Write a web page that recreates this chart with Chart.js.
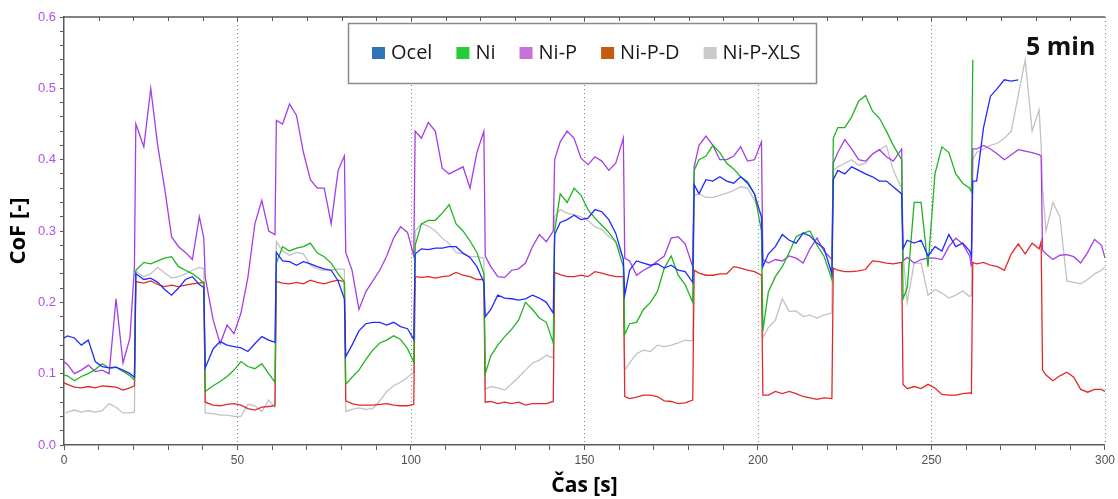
<!DOCTYPE html>
<html>
<head>
<meta charset="utf-8">
<script src="https://cdn.jsdelivr.net/npm/chart.js@4/dist/chart.umd.min.js"></script>
<style>
  html, body { margin: 0; padding: 0; background: #fff; }
  canvas { display: block; }
</style>
</head>
<body>
<canvas id="graf" width="1118" height="499"></canvas>
<script>
// cas [s] - shared time points (each 20 s block starts right after the step)
const cas = [
  0, 1, 3, 5, 7, 9, 11, 13, 15, 17, 19, 20.3,
  20.7, 23, 25, 27, 29, 31, 33, 35, 37, 39, 40.3,
  40.7, 43, 45, 47, 49, 51, 53, 55, 57, 59, 60.8,
  61.2, 63, 65, 67, 69, 71, 73, 75, 77, 79, 80.8,
  81.2, 83, 85, 87, 89, 91, 93, 95, 97, 99, 100.8,
  101.2, 103, 105, 107, 109, 111, 113, 115, 117, 119, 121,
  121.4, 123, 125, 127, 129, 131, 133, 135, 137, 139, 141,
  141.4, 143, 145, 147, 149, 151, 153, 155, 157, 159, 161.2,
  161.6, 163, 165, 167, 169, 171, 173, 175, 177, 179, 181.2,
  181.6, 183, 185, 187, 189, 191, 193, 195, 197, 199, 201,
  201.4, 203, 205, 207, 209, 211, 213, 215, 217, 219, 221.3,
  221.7, 223, 225, 227, 229, 231, 233, 235, 237, 239, 241.4,
  241.8, 243, 245, 247, 249, 251, 253, 255, 257, 259, 261, 261.5,
  261.9, 263, 265, 267, 269, 271, 273, 275, 277, 279, 281, 281.6,
  282, 283, 285, 287, 289, 291, 293, 295, 297, 299, 300
];

const ocel = [
  0.15, 0.153, 0.15, 0.14, 0.147, 0.117, 0.11, 0.108, 0.109, 0.105, 0.1, 0.095,
  0.24, 0.232, 0.234, 0.228, 0.218, 0.21, 0.22, 0.232, 0.236, 0.225, 0.221,
  0.108, 0.135, 0.145, 0.14, 0.138, 0.136, 0.131, 0.142, 0.152, 0.147, 0.144,
  0.27, 0.258, 0.257, 0.252, 0.257, 0.254, 0.25, 0.247, 0.245, 0.23, 0.205,
  0.124, 0.14, 0.16, 0.17, 0.172, 0.172, 0.168, 0.172, 0.166, 0.163, 0.148,
  0.268, 0.275, 0.274, 0.276, 0.276, 0.278, 0.278, 0.269, 0.263, 0.25, 0.228,
  0.18, 0.19, 0.21, 0.206, 0.205, 0.203, 0.205, 0.21, 0.206, 0.2, 0.185,
  0.295, 0.312, 0.316, 0.322, 0.316, 0.318, 0.33, 0.327, 0.316, 0.297, 0.26,
  0.21, 0.245, 0.258, 0.255, 0.252, 0.254, 0.248, 0.252, 0.245, 0.243, 0.228,
  0.365, 0.352, 0.372, 0.37, 0.376, 0.37, 0.367, 0.376, 0.367, 0.352, 0.32,
  0.25, 0.268, 0.278, 0.295, 0.287, 0.283, 0.297, 0.293, 0.283, 0.276, 0.24,
  0.372, 0.385, 0.38, 0.39, 0.385, 0.38, 0.376, 0.37, 0.37, 0.362, 0.352,
  0.275, 0.287, 0.283, 0.287, 0.265, 0.278, 0.272, 0.295, 0.278, 0.283, 0.272, 0.265,
  0.37, 0.37, 0.445, 0.489, 0.5, 0.512, 0.51, 0.512, null, null, null, null,
  null, null, null, null, null, null, null, null, null, null, null
];

const ni = [
  0.098, 0.097, 0.09, 0.096, 0.1, 0.106, 0.114, 0.108, 0.109, 0.103, 0.097, 0.091,
  0.245, 0.256, 0.254, 0.258, 0.262, 0.264, 0.25, 0.245, 0.24, 0.233, 0.226,
  0.075, 0.083, 0.089, 0.096, 0.105, 0.117, 0.11, 0.107, 0.114, 0.1, 0.088,
  0.255, 0.278, 0.272, 0.276, 0.278, 0.283, 0.269, 0.264, 0.255, 0.24, 0.229,
  0.085, 0.095, 0.105, 0.12, 0.133, 0.143, 0.147, 0.153, 0.148, 0.135, 0.116,
  0.28, 0.31, 0.315, 0.315, 0.325, 0.337, 0.31, 0.3, 0.286, 0.27, 0.24,
  0.1, 0.125, 0.14, 0.152, 0.162, 0.175, 0.2, 0.19, 0.178, 0.172, 0.143,
  0.3, 0.352, 0.34, 0.36, 0.35, 0.33, 0.318, 0.308, 0.298, 0.285, 0.25,
  0.155, 0.17, 0.172, 0.19, 0.2, 0.215, 0.248, 0.265, 0.238, 0.225, 0.2,
  0.385, 0.4, 0.405, 0.42, 0.41, 0.395, 0.387, 0.376, 0.369, 0.352, 0.3,
  0.16, 0.215, 0.236, 0.25, 0.27, 0.292, 0.297, 0.3, 0.28, 0.265, 0.232,
  0.43, 0.445, 0.445, 0.46, 0.482, 0.49, 0.468, 0.458, 0.44, 0.42, 0.4,
  0.205, 0.22, 0.34, 0.34, 0.25, 0.38, 0.418, 0.41, 0.38, 0.367, 0.36, 0.355,
  0.54, null, null, null, null, null, null, null, null, null, null, null,
  null, null, null, null, null, null, null, null, null, null, null
];

const niP = [
  0.117, 0.113, 0.1, 0.105, 0.112, 0.103, 0.105, 0.1, 0.205, 0.115, 0.15, 0.25,
  0.45, 0.418, 0.5, 0.42, 0.36, 0.292, 0.278, 0.27, 0.26, 0.32, 0.29,
  0.235, 0.175, 0.142, 0.168, 0.156, 0.185, 0.235, 0.31, 0.343, 0.3, 0.295,
  0.455, 0.45, 0.478, 0.462, 0.41, 0.372, 0.36, 0.36, 0.31, 0.385, 0.405,
  0.27, 0.245, 0.19, 0.215, 0.23, 0.245, 0.265, 0.29, 0.306, 0.298, 0.265,
  0.44, 0.43, 0.452, 0.44, 0.388, 0.38, 0.385, 0.39, 0.36, 0.41, 0.44,
  0.265, 0.25, 0.236, 0.235, 0.245, 0.247, 0.255, 0.278, 0.295, 0.285, 0.3,
  0.4, 0.425, 0.44, 0.43, 0.402, 0.393, 0.404, 0.398, 0.385, 0.395, 0.43,
  0.262, 0.258, 0.238, 0.245, 0.25, 0.258, 0.265, 0.29, 0.292, 0.282, 0.25,
  0.39, 0.42, 0.433, 0.42, 0.4, 0.4, 0.405, 0.418, 0.398, 0.4, 0.425,
  0.26, 0.255, 0.26, 0.258, 0.265, 0.262, 0.255, 0.275, 0.29, 0.272, 0.26,
  0.395, 0.41, 0.428, 0.415, 0.4, 0.398, 0.408, 0.414, 0.404, 0.398, 0.415,
  0.258, 0.263, 0.255, 0.26, 0.262, 0.262, 0.26, 0.278, 0.29, 0.282, 0.265, 0.25,
  0.415, 0.415, 0.42, 0.415, 0.408, 0.4, 0.407, 0.414, 0.412, 0.41, 0.407, 0.405,
  0.273, 0.268, 0.26, 0.266, 0.267, 0.264, 0.255, 0.27, 0.288, 0.28, 0.262
];

const niPD = [
  0.087, 0.085, 0.081, 0.08, 0.082, 0.08, 0.083, 0.082, 0.081, 0.077, 0.08, 0.083,
  0.229, 0.227, 0.23, 0.225, 0.222, 0.224, 0.222, 0.224, 0.226, 0.227, 0.228,
  0.06, 0.056, 0.055, 0.057, 0.058, 0.056, 0.051, 0.049, 0.053, 0.054, 0.055,
  0.229, 0.227, 0.226, 0.228, 0.226, 0.231, 0.228, 0.226, 0.229, 0.231, 0.229,
  0.062, 0.058, 0.056, 0.056, 0.056, 0.057, 0.058, 0.056, 0.055, 0.055, 0.057,
  0.236, 0.235, 0.236, 0.234, 0.236, 0.237, 0.242, 0.238, 0.236, 0.232, 0.232,
  0.06, 0.061, 0.058, 0.06, 0.058, 0.06, 0.056, 0.058, 0.058, 0.058, 0.061,
  0.242, 0.239, 0.236, 0.236, 0.238, 0.236, 0.243, 0.241, 0.238, 0.236, 0.236,
  0.068, 0.065, 0.067, 0.07, 0.07, 0.068, 0.062, 0.061, 0.058, 0.059, 0.063,
  0.245, 0.241, 0.238, 0.238, 0.24, 0.24, 0.25, 0.248, 0.245, 0.243, 0.238,
  0.07, 0.07, 0.075, 0.072, 0.075, 0.072, 0.068, 0.066, 0.064, 0.066, 0.065,
  0.248, 0.245, 0.243, 0.243, 0.244, 0.246, 0.258, 0.257, 0.255, 0.254, 0.256,
  0.085, 0.079, 0.082, 0.079, 0.085, 0.08, 0.071, 0.07, 0.07, 0.072, 0.073, 0.072,
  0.256, 0.254, 0.256, 0.252, 0.25, 0.245, 0.268, 0.282, 0.268, 0.283, 0.275, 0.285,
  0.105, 0.098, 0.09, 0.097, 0.102, 0.095, 0.078, 0.074, 0.078, 0.078, 0.075
];

const niPXLS = [
  0.044, 0.046, 0.049, 0.046, 0.048, 0.046, 0.048, 0.058, 0.053, 0.045, 0.045, 0.046,
  0.243, 0.236, 0.24, 0.249, 0.241, 0.234, 0.236, 0.24, 0.245, 0.249, 0.247,
  0.045, 0.044, 0.042, 0.042, 0.04, 0.04, 0.057, 0.055, 0.047, 0.063, 0.053,
  0.285, 0.272, 0.266, 0.27, 0.268, 0.252, 0.247, 0.245, 0.245, 0.247, 0.246,
  0.047, 0.05, 0.052, 0.05, 0.051, 0.062, 0.075, 0.083, 0.088, 0.095, 0.102,
  0.3, 0.31, 0.307, 0.3, 0.29, 0.282, 0.27, 0.268, 0.264, 0.264, 0.262,
  0.078, 0.082, 0.08, 0.077, 0.086, 0.095, 0.105, 0.115, 0.119, 0.126, 0.122,
  0.32, 0.33, 0.325, 0.323, 0.32, 0.315, 0.306, 0.302, 0.292, 0.285, 0.262,
  0.105, 0.115, 0.128, 0.133, 0.131, 0.14, 0.138, 0.14, 0.143, 0.147, 0.146,
  0.35, 0.352, 0.347, 0.347, 0.35, 0.353, 0.357, 0.362, 0.36, 0.343, 0.32,
  0.15, 0.165, 0.175, 0.205, 0.187, 0.188, 0.18, 0.182, 0.178, 0.182, 0.185,
  0.385, 0.39, 0.395, 0.4, 0.392, 0.395, 0.408, 0.414, 0.42, 0.385, 0.36,
  0.27, 0.2, 0.255, 0.255, 0.21, 0.218, 0.213, 0.206, 0.21, 0.216, 0.208, 0.21,
  0.4, 0.41, 0.415, 0.42, 0.423, 0.43, 0.44, 0.49, 0.54, 0.44, 0.47, 0.42,
  0.36, 0.3, 0.34, 0.32, 0.23, 0.228, 0.226, 0.232, 0.24, 0.245, 0.25
];

const nazvy = ['Ocel', 'Ni', 'Ni-P', 'Ni-P-D', 'Ni-P-XLS'];
const mrizkaX = [50, 100, 150, 200, 250, 300];

const serie = [ocel, ni, niP, niPD, niPXLS];
const bravyCar = ['#1f2bff', '#1fb51f', '#a53ee6', '#e02a2a', '#c2c2c2'];
const bravyLegendy = ['#2e74b8', '#27cc3a', '#c772d9', '#c55a11', '#c9c9c9'];

serie.forEach((s, i) => {
  if (s.length !== cas.length) throw new Error(nazvy[i] + ' has ' + s.length + ' values, cas has ' + cas.length);
});

const datasets = serie.map((s, i) => ({
  label: nazvy[i],
  data: cas.map((t, j) => ({ x: t, y: s[j] })),
  borderColor: bravyCar[i],
  backgroundColor: bravyLegendy[i],
  borderWidth: 1.3,
  pointRadius: 0,
  tension: 0,
  spanGaps: false
}));

// dotted verticals, top frame line, boxed legend and the "5 min" note
const doplnky = {
  id: 'doplnky',
  beforeDatasetsDraw(chart) {
    const { ctx, chartArea, scales } = chart;
    ctx.save();
    ctx.strokeStyle = '#808080';
    ctx.lineWidth = 1;
    ctx.setLineDash([1, 3]);
    mrizkaX.forEach(v => {
      const x = Math.round(scales.x.getPixelForValue(v)) + 0.5;
      ctx.beginPath();
      ctx.moveTo(x, chartArea.top);
      ctx.lineTo(x, chartArea.bottom);
      ctx.stroke();
    });
    ctx.restore();
  },
  afterDraw(chart) {
    const { ctx, chartArea, scales } = chart;
    ctx.save();
    // top frame with small ticks
    ctx.strokeStyle = '#5a5a5a';
    ctx.lineWidth = 1.5;
    ctx.beginPath();
    ctx.moveTo(chartArea.left, chartArea.top);
    ctx.lineTo(chartArea.right, chartArea.top);
    ctx.stroke();
    ctx.lineWidth = 1;
    for (let v = 10; v < 300; v += 10) {
      const x = Math.round(scales.x.getPixelForValue(v)) + 0.5;
      ctx.beginPath();
      ctx.moveTo(x, chartArea.top);
      ctx.lineTo(x, chartArea.top + 4);
      ctx.stroke();
    }

    // legend box
    const bx = 348, by = 23, bw = 468, bh = 60;
    ctx.fillStyle = '#fff';
    ctx.fillRect(bx, by, bw, bh);
    ctx.strokeStyle = '#8a8a8a';
    ctx.lineWidth = 1.5;
    ctx.strokeRect(bx + 0.5, by + 0.5, bw, bh);
    ctx.font = '20px "Open Sans"';
    ctx.textBaseline = 'middle';
    ctx.textAlign = 'left';
    let x = 372;
    const cy = 53;
    nazvy.forEach((n, i) => {
      ctx.fillStyle = bravyLegendy[i];
      ctx.fillRect(x, cy - 6, 13, 12);
      ctx.fillStyle = '#1a1a1a';
      ctx.fillText(n, x + 19, cy);
      x += 19 + ctx.measureText(n).width + 24;
    });

    // note
    ctx.fillStyle = '#111';
    ctx.font = 'bold 25px "Open Sans"';
    ctx.textAlign = 'left';
    ctx.textBaseline = 'alphabetic';
    ctx.fillText('5 min', 1026, 55);
    ctx.restore();
  }
};

const ctx = document.getElementById('graf').getContext('2d');
new Chart(ctx, {
  type: 'line',
  data: { datasets },
  options: {
    responsive: false,
    animation: false,
    layout: { padding: { top: 17, right: 10, left: 0, bottom: 0 } },
    plugins: {
      legend: { display: false },
      tooltip: { enabled: false }
    },
    scales: {
      x: {
        type: 'linear',
        min: 0,
        max: 300,
        afterFit: s => { s.height = 54; },
        ticks: {
          stepSize: 10,
          autoSkip: false,
          maxRotation: 0,
          padding: 3,
          color: '#505050',
          font: { family: '"Liberation Sans", Arial', size: 12 },
          callback: v => (v % 50 === 0 ? String(v) : '')
        },
        grid: { drawOnChartArea: false, drawTicks: true, tickLength: 5, tickColor: '#5a5a5a', tickWidth: 1 },
        border: { color: '#5a5a5a', width: 1.5 },
        title: {
          display: true,
          text: 'Čas [s]',
          color: '#000',
          font: { family: '"Open Sans"', size: 21, weight: 'bold' },
          padding: { top: 0, bottom: 0 }
        }
      },
      y: {
        min: 0,
        max: 0.6,
        afterFit: s => { s.width = 64; },
        ticks: {
          stepSize: 0.02,
          autoSkip: false,
          padding: 4,
          color: '#b050f0',
          font: { family: '"Liberation Sans", Arial', size: 13 },
          callback: v => (Math.abs(v * 10 - Math.round(v * 10)) < 1e-6 ? v.toFixed(1) : '')
        },
        grid: { drawOnChartArea: false, drawTicks: true, tickLength: 4, tickColor: '#5a5a5a', tickWidth: 1 },
        border: { color: '#5a5a5a', width: 1.5 },
        title: {
          display: true,
          text: 'CoF [-]',
          color: '#000',
          font: { family: '"Open Sans"', size: 22, weight: 'bold' },
          padding: { top: 6, bottom: 0 }
        }
      }
    }
  },
  plugins: [doplnky]
});
</script>
</body>
</html>
